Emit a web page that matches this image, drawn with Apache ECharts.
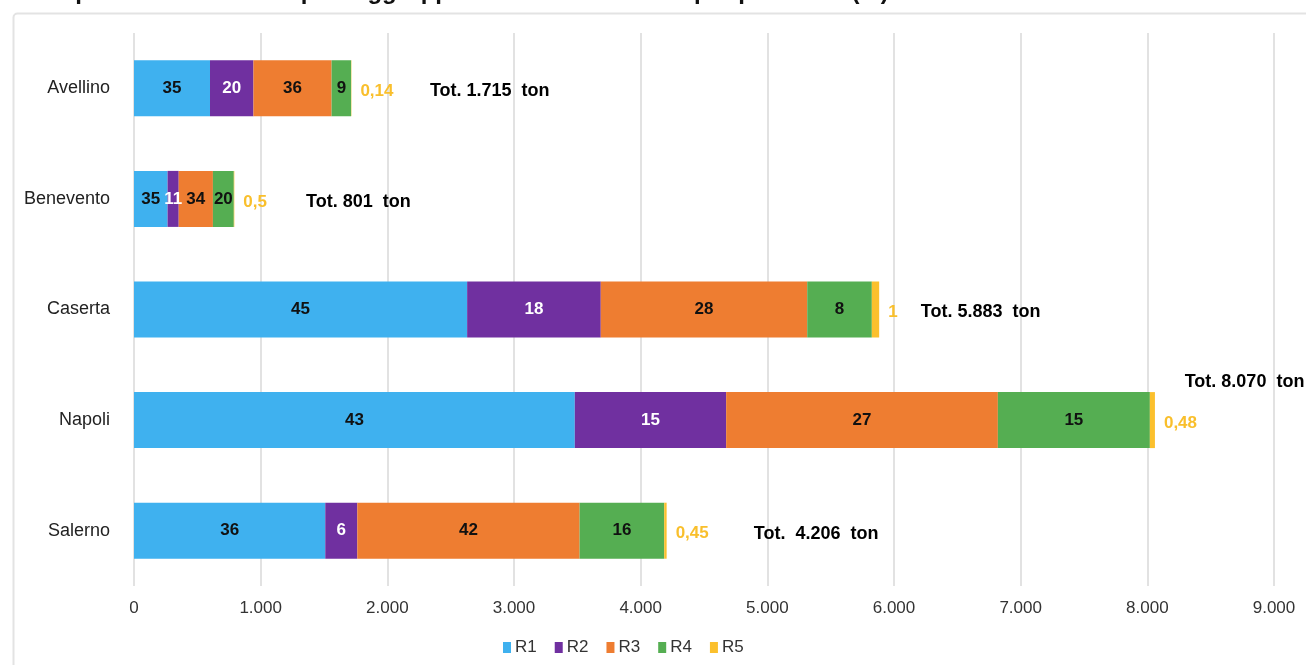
<!DOCTYPE html>
<html>
<head>
<meta charset="utf-8">
<script src="https://cdn.jsdelivr.net/npm/echarts@6/dist/echarts.min.js"></script>
<style>
  html, body { margin: 0; padding: 0; background: #fff; }
  #chart { width: 1306px; height: 665px; }
</style>
</head>
<body>
<div id="chart"></div>
<script>
// province (categories, top to bottom)
const province = ['Avellino', 'Benevento', 'Caserta', 'Napoli', 'Salerno'];
const seriesNames = ['R1', 'R2', 'R3', 'R4', 'R5'];

// tonnellate per raggruppamento
const r1 = [600, 265, 2630, 3480, 1510];
const r2 = [343, 88, 1055, 1195, 253];
const r3 = [617, 270, 1630, 2145, 1755];
const r4 = [154, 165, 510, 1200, 668];
const r5 = [2.4, 4, 58, 40, 19];

// etichette percentuali mostrate sulle barre
const pctR1 = ['35', '35', '45', '43', '36'];
const pctR2 = ['20', '11', '18', '15', '6'];
const pctR3 = ['36', '34', '28', '27', '42'];
const pctR4 = ['9', '20', '8', '15', '16'];
const pctR5 = ['0,14', '0,5', '1', '0,48', '0,45'];

// etichette dei totali e punto di ancoraggio (in ton sull'asse x)
const totLabels = ['Tot. 1.715  ton', 'Tot. 801  ton', 'Tot. 5.883  ton', 'Tot. 8.070  ton', 'Tot.  4.206  ton'];
const totAnchorX = [2336, 1358, 6212, 8295, 4893];

const xTicks = { min: 0, max: 9000, interval: 1000 };

const colors = ['#3fb1ef', '#7030a0', '#ee7d31', '#55ae52', '#fbc02d'];
const labelColors = ['#111', '#fff', '#111', '#111'];
const FONT = '"Liberation Sans", Arial, sans-serif';

const chart = echarts.init(document.getElementById('chart'));

const values = [r1, r2, r3, r4, r5];
const pcts = [pctR1, pctR2, pctR3, pctR4, pctR5];

const barSeries = values.map((vals, i) => ({
    name: seriesNames[i],
    type: 'bar',
    stack: 'tot',
    barWidth: 56,
    data: vals,
    itemStyle: { color: colors[i] },
    label: i < 4 ? {
        show: true,
        position: 'inside',
        color: labelColors[i],
        fontFamily: FONT,
        fontWeight: 'bold',
        fontSize: 17,
        formatter: p => pcts[i][p.dataIndex]
    } : {
        show: true,
        position: 'right',
        distance: 9,
        offset: [0, 3],
        color: '#f9bf2c',
        fontFamily: FONT,
        fontWeight: 'bold',
        fontSize: 17,
        formatter: p => pcts[i][p.dataIndex]
    }
}));

// totali: punti invisibili con etichetta
const totSeries = {
    name: 'tot',
    type: 'scatter',
    symbolSize: 0,
    silent: true,
    z: 5,
    itemStyle: { color: '#000', opacity: 1 },
    data: totAnchorX.map((x, i) => ({
        value: [x, i],
        label: { offset: i === 3 ? [0, -38] : [0, 3] }
    })),
    label: {
        show: true,
        position: 'right',
        distance: 0,
        color: '#000',
        opacity: 1,
        fontFamily: FONT,
        fontWeight: 'bold',
        fontSize: 18,
        formatter: p => totLabels[p.dataIndex]
    }
};

const option = {
    animation: false,
    textStyle: { fontFamily: FONT },
    title: {
        text: 'Composizione dei rifiuti per raggruppamenti di materiale e per provincia (%)',
        left: 22,
        top: -20,
        padding: 0,
        textStyle: { fontFamily: FONT, fontWeight: 'bold', fontSize: 24, color: '#111' }
    },
    graphic: [{
        type: 'rect',
        left: 11,
        top: 11,
        z: -1,
        shape: { width: 1400, height: 700, r: 4 },
        style: { fill: 'none', stroke: '#e3e3e3', lineWidth: 2 }
    }],
    legend: {
        data: seriesNames,
        top: 634,
        left: 498,
        icon: 'rect',
        itemWidth: 8,
        itemHeight: 11,
        itemGap: 18,
        textStyle: { fontFamily: FONT, fontSize: 17, color: '#333', padding: [0, 0, 0, -1] }
    },
    grid: { left: 134, right: 32, top: 33, bottom: 79 },
    xAxis: {
        type: 'value',
        min: xTicks.min,
        max: xTicks.max,
        interval: xTicks.interval,
        axisLine: { show: false },
        axisTick: { show: false },
        splitLine: { lineStyle: { color: '#e2e2e2', width: 2 } },
        axisLabel: {
            margin: 14,
            color: '#333',
            fontSize: 17,
            fontFamily: FONT,
            formatter: v => v.toLocaleString('de-DE')
        }
    },
    yAxis: {
        type: 'category',
        data: province,
        inverse: true,
        axisLine: { show: false },
        axisTick: { show: false },
        axisLabel: { margin: 24, color: '#222', fontSize: 18, fontFamily: FONT }
    },
    series: [...barSeries, totSeries]
};

chart.setOption(option);
</script>
</body>
</html>
